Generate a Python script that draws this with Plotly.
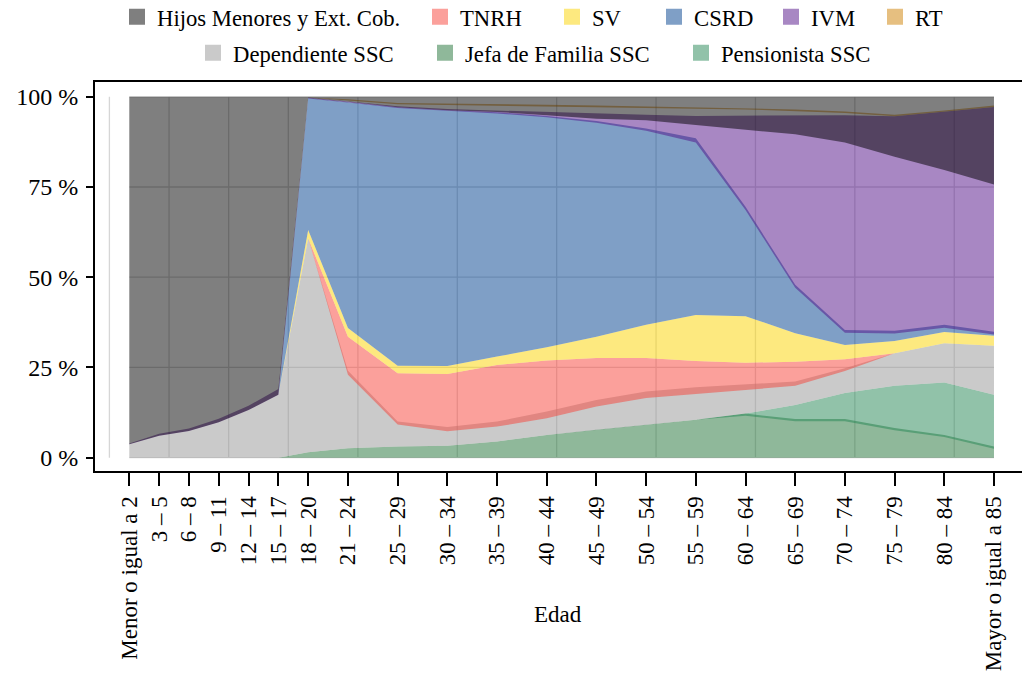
import plotly.graph_objects as go

# ---------------- data ----------------
AGE_LABELS = ["Menor o igual a 2", "3 – 5", "6 – 8", "9 – 11", "12 – 14", "15 – 17",
              "18 – 20", "21 – 24", "25 – 29", "30 – 34", "35 – 39", "40 – 44",
              "45 – 49", "50 – 54", "55 – 59", "60 – 64", "65 – 69", "70 – 74",
              "75 – 79", "80 – 84", "Mayor o igual a 85"]
AGE_UPPER = [2, 5, 8, 11, 14, 17, 20, 24, 29, 34, 39, 44, 49, 54, 59, 64, 69, 74, 79, 84, 89]

# band limits of each series (percent)
JEFA_LO = [0] * 21
JEFA_HI = [0, 0, 0, 0, 0, 0, 1.5, 2.6, 3.1, 3.3, 4.5, 6.3, 7.7, 9.1, 10.5, 12.2, 10.7, 10.7, 8.2, 6.3, 3.1]
PENS_LO = [0, 0, 0, 0, 0, 0, 1.5, 2.6, 3.1, 3.3, 4.5, 6.3, 7.7, 9.1, 10.5, 11.6, 10.1, 10.1, 7.6, 5.7, 2.5]
PENS_HI = [0, 0, 0, 0, 0, 0, 1.5, 2.6, 3.1, 3.3, 4.5, 6.3, 7.7, 9.1, 10.5, 12.2, 14.6, 17.9, 19.9, 20.8, 17.4]
DEP_LO = [0, 0, 0, 0, 0, 0, 1.5, 2.6, 3.1, 3.3, 4.5, 6.3, 7.7, 9.1, 10.5, 12.2, 14.6, 17.9, 19.9, 20.8, 17.4]
DEP_HI = [3.7, 6.1, 7.4, 9.8, 13.2, 17.4, 60.8, 24.1, 10.0, 8.5, 10.0, 12.8, 16.0, 18.3, 19.5, 20.2, 21.1, 24.8, 28.9, 31.7, 31.0]
TNRH_LO = [3.7, 6.1, 7.4, 9.8, 13.2, 17.4, 60.8, 23.0, 9.2, 7.3, 8.6, 10.9, 14.2, 16.5, 17.7, 18.7, 19.9, 24.0, 28.9, 31.7, 31.0]
TNRH_HI = [3.7, 6.1, 7.4, 9.8, 13.2, 17.4, 60.8, 33.5, 23.4, 23.2, 25.7, 26.9, 27.6, 27.6, 26.8, 26.3, 26.6, 27.3, 28.9, 31.7, 31.0]
SV_LO = TNRH_HI
SV_HI = [3.7, 6.1, 7.4, 9.8, 13.2, 17.4, 63.1, 35.9, 25.5, 25.4, 28.0, 30.6, 33.5, 36.8, 39.5, 39.2, 34.5, 31.2, 32.3, 34.8, 33.8]
CSRD_LO = SV_HI
CSRD_HI = [3.7, 6.1, 7.4, 9.8, 13.2, 17.4, 99.7, 98.6, 97.1, 96.3, 95.7, 94.7, 93.3, 91.2, 88.5, 69.5, 47.9, 35.4, 35.2, 36.8, 34.9]
IVM_LO = [3.7, 6.1, 7.4, 9.8, 13.2, 17.4, 99.5, 98.4, 96.9, 96.1, 95.4, 94.3, 92.8, 90.6, 87.3, 68.6, 47.1, 34.6, 34.4, 36.0, 34.1]
IVM_HI = [3.9, 6.6, 8.1, 10.8, 14.4, 19.0, 99.8, 98.8, 97.4, 96.6, 96.2, 95.6, 95.2, 95.0, 94.7, 94.8, 94.8, 94.9, 94.6, 95.8, 97.2]
RT_LO = [3.9, 6.6, 8.1, 10.8, 14.4, 19.0, 99.8, 99.0, 97.9, 97.8, 97.7, 97.4, 97.2, 96.9, 96.7, 96.5, 96.1, 95.5, 94.6, 95.8, 97.2]
RT_HI = [3.9, 6.6, 8.1, 10.8, 14.4, 19.0, 99.8, 99.3, 98.3, 98.2, 98.1, 97.8, 97.6, 97.3, 97.1, 96.9, 96.5, 95.9, 95.0, 96.2, 97.6]
HIJOS_LO = [3.7, 6.1, 7.4, 9.8, 13.2, 17.4, 99.7, 98.6, 97.1, 96.3, 95.8, 94.9, 93.9, 93.5, 92.2, 90.8, 89.6, 87.3, 83.4, 79.7, 75.7]
HIJOS_HI = [100] * 21

Y_TICKS = [0, 25, 50, 75, 100]
Y_TICK_TEXT = ["0 %", "25 %", "50 %", "75 %", "100 %"]
GRID_X = [0, 6, 12, 18, 25, 35, 45, 55, 65, 75, 85]

# ---------------- styling ----------------
FONT = "Liberation Serif, Times New Roman, serif"
ALPHA = 0.5
PLOT_W = 929.0   # plot area width in px (95 .. 1024)
ROW1_Y, ROW2_Y = 1.167, 1.0745
# legend item left edges in px (page coordinates)
series = [  # draw order (bottom first): name, lo, hi, rgb, legend id, legend left px, row y
    ("Jefa de Familia SSC", JEFA_LO, JEFA_HI, (31, 113, 53), "legend8", 425, ROW2_Y),
    ("Pensionista SSC", PENS_LO, PENS_HI, (35, 133, 83), "legend9", 681, ROW2_Y),
    ("Dependiente SSC", DEP_LO, DEP_HI, (149, 149, 149), "legend7", 193, ROW2_Y),
    ("TNRH", TNRH_LO, TNRH_HI, (248, 65, 55), "legend2", 420, ROW1_Y),
    ("SV", SV_LO, SV_HI, (251, 212, 0), "legend3", 552, ROW1_Y),
    ("CSRD", CSRD_LO, CSRD_HI, (0, 64, 141), "legend4", 654, ROW1_Y),
    ("IVM", IVM_LO, IVM_HI, (81, 15, 135), "legend5", 771, ROW1_Y),
    ("RT", RT_LO, RT_HI, (205, 127, 1), "legend6", 875, ROW1_Y),
    ("Hijos Menores y Ext. Cob.", HIJOS_LO, HIJOS_HI, (0, 0, 0), "legend", 117, ROW1_Y),
]

def rgba(c, a=ALPHA):
    return f"rgba({c[0]},{c[1]},{c[2]},{a})"

fig = go.Figure()
for name, lo, hi, col, leg, lpx, ly in series:
    fig.add_trace(go.Scatter(
        x=AGE_UPPER + AGE_UPPER[::-1],
        y=hi + lo[::-1],
        fill="toself", fillcolor=rgba(col), mode="lines",
        line=dict(width=0, color=rgba(col, 0)),
        hoverinfo="skip", showlegend=False,
    ))
legends = {}
for name, lo, hi, col, leg, lpx, ly in series:
    fig.add_trace(go.Scatter(
        x=[None], y=[None], mode="markers", name=name,
        marker=dict(symbol="square", size=18, color=rgba(col), line=dict(width=0)),
        legend=leg, showlegend=True,
    ))
    legends[leg] = dict(orientation="h", x=(lpx - 95) / PLOT_W, xanchor="left", y=ly,
                        yanchor="middle", font=dict(family=FONT, size=22.7), itemclick=False,
                        bgcolor="rgba(0,0,0,0)", borderwidth=0)

shapes = []
for gx in GRID_X:
    shapes.append(dict(type="line", xref="x", yref="y", x0=gx, x1=gx, y0=0, y1=100,
                       line=dict(color="#D6D6D6", width=1.3), layer="below"))
for gy in Y_TICKS:
    shapes.append(dict(type="line", xref="x", yref="y", x0=AGE_UPPER[0], x1=AGE_UPPER[-1],
                       y0=gy, y1=gy, line=dict(color="#D6D6D6", width=1.3), layer="below"))

fig.update_layout(
    width=1024, height=674,
    margin=dict(l=95, r=0, t=82, b=202.5, autoexpand=False),
    paper_bgcolor="white", plot_bgcolor="white",
    font=dict(family=FONT, size=23, color="black"),
    shapes=shapes,
    annotations=[dict(text="Edad", xref="paper", yref="paper", x=(558 - 95) / PLOT_W,
                      y=-0.368, showarrow=False, font=dict(family=FONT, size=23),
                      xanchor="center", yanchor="middle")],
    **legends,
)
fig.update_xaxes(
    range=[-1.45, 92.02], tickmode="array", tickvals=AGE_UPPER, ticktext=AGE_LABELS,
    tickangle=-90, ticks="outside", ticklen=13, tickwidth=2, tickcolor="black",
    showline=True, linewidth=2, linecolor="black", mirror=True, showgrid=False,
    zeroline=False, tickfont=dict(family=FONT, size=23), ticklabelstandoff=1,
    automargin=False,
)
fig.update_yaxes(
    range=[-3.7, 104.1], tickmode="array", tickvals=Y_TICKS, ticktext=Y_TICK_TEXT,
    ticks="outside", ticklen=7, tickwidth=2, tickcolor="black",
    showline=True, linewidth=2, linecolor="black", mirror=True, showgrid=False,
    zeroline=False, tickfont=dict(family=FONT, size=24), ticklabelstandoff=3,
    automargin=False,
)

# remove the default page margin / scrollbars so the figure fills the window exactly
fig.write_html(
    "out.html",
    config={"displayModeBar": False, "staticPlot": True},
    post_script="document.body.style.margin='0';document.body.style.overflow='hidden';",
)
